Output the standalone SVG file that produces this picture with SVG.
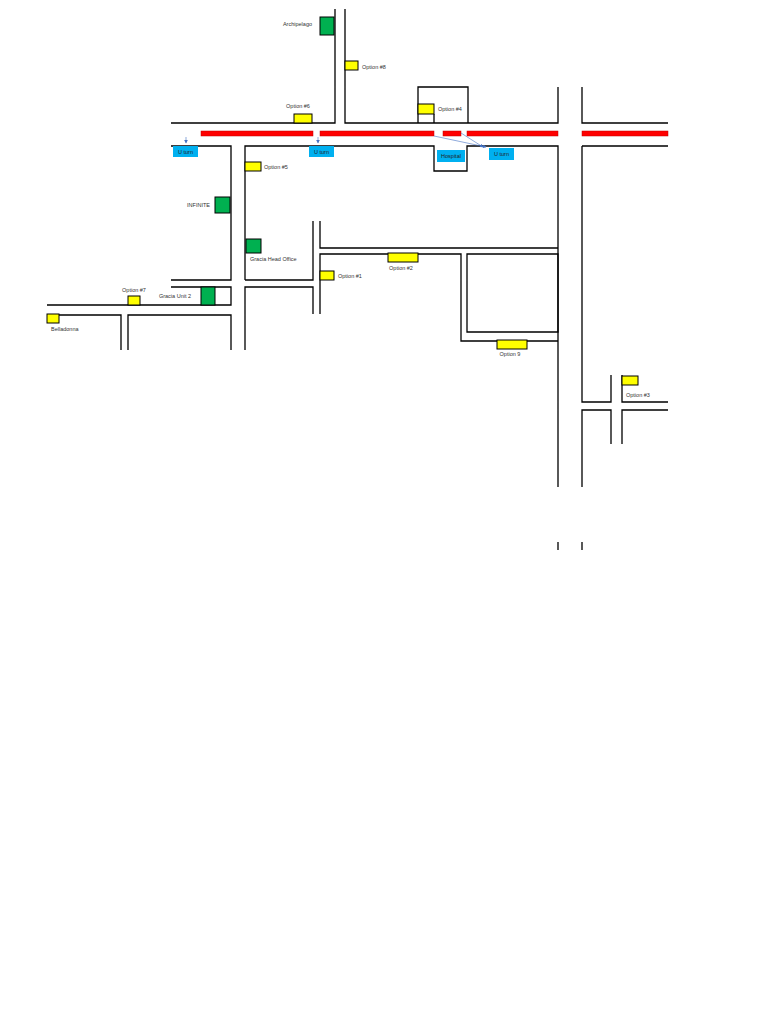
<svg xmlns="http://www.w3.org/2000/svg" width="768" height="1024" viewBox="0 0 768 1024">
<style>
.r{fill:none;stroke:#000;stroke-width:1.3}
.y{fill:#ffff00;stroke:#000;stroke-width:1}
.g{fill:#00b050;stroke:#000;stroke-width:1}
.b{fill:#00b0f0}
.red{fill:#ff0000;stroke:#c00000;stroke-width:0.5}
text{font-family:"Liberation Sans",Arial,sans-serif;font-size:5.5px;fill:#333}
.bt{fill:#222}
.a{stroke:#4472c4;stroke-width:0.6;fill:none;marker-end:url(#ah)}
</style>
<defs><marker id="ah" markerWidth="6" markerHeight="6" refX="5" refY="3" orient="auto"><path d="M0,0L6,3L0,6z" fill="#4472c4"/></marker></defs>
<rect width="768" height="1024" fill="#fff"/>
<g id="roads">
<path class="r" d="M335,9V123H171M345,9V123H558V87M418,123V87H468V123M434,114V123M582,87V123H668"/>
<path class="r" d="M171,146H231V280H171M245,280V146H434V171H467V146H558V487M582,487V410H611V444M622,444V410H668M582,146H668M582,146V402H611V375M622,375V402H668"/>
<path class="r" d="M245,280H313V221M320,221V248H558M320,314V254H461V341H558M467,254H558V332H467Z"/>
<path class="r" d="M313,314V287H245V350M171,287H231V305H47M59,315H121V350M128,350V315H231V350"/>
<path class="r" d="M558,542V550M582,542V550"/>
</g>
<g id="median">
<rect class="red" x="201" y="131" width="112" height="5"/>
<rect class="red" x="320" y="131" width="114" height="5"/>
<rect class="red" x="443" y="131" width="18" height="5"/>
<rect class="red" x="467" y="131" width="91" height="5"/>
<rect class="red" x="582" y="131" width="86" height="5"/>
</g>
<g id="connectors">
<path class="a" d="M186,137V143"/>
<path class="a" d="M318,137V143"/>
<path class="a" d="M434,136L486,147"/>
<path class="a" d="M461,133L483,147"/>
</g>
<g id="uturn1"><rect class="b" x="173" y="146" width="25" height="11"/><text class="bt" x="185.5" y="153.5" text-anchor="middle">U turn</text></g>
<g id="uturn2"><rect class="b" x="309" y="146" width="25" height="11"/><text class="bt" x="321.5" y="153.5" text-anchor="middle">U turn</text></g>
<g id="uturn3"><rect class="b" x="489" y="148" width="25" height="12"/><text class="bt" x="501.5" y="156" text-anchor="middle">U turn</text></g>
<g id="hospital"><rect class="b" x="437" y="150" width="28" height="12"/><text class="bt" x="451" y="158" text-anchor="middle">Hospital</text></g>
<g id="archipelago"><rect class="g" x="320" y="17" width="14" height="18"/><text x="312" y="26" text-anchor="end">Archipelago</text></g>
<g id="opt8"><rect class="y" x="345" y="61" width="13" height="9"/><text x="362" y="69">Option #8</text></g>
<g id="opt6"><rect class="y" x="294" y="114" width="18" height="9"/><text x="298" y="108" text-anchor="middle">Option #6</text></g>
<g id="opt4"><rect class="y" x="418" y="104" width="16" height="10"/><text x="438" y="111">Option #4</text></g>
<g id="opt5"><rect class="y" x="245" y="162" width="16" height="9"/><text x="264" y="169">Option #5</text></g>
<g id="infinite"><rect class="g" x="215" y="197" width="15" height="16"/><text x="210" y="207" text-anchor="end">INFINITE</text></g>
<g id="gho"><rect class="g" x="246" y="239" width="15" height="14"/><text x="250" y="261">Gracia Head Office</text></g>
<g id="opt1"><rect class="y" x="320" y="271" width="14" height="9"/><text x="338" y="278">Option #1</text></g>
<g id="opt2"><rect class="y" x="388" y="253" width="30" height="9"/><text x="401" y="270" text-anchor="middle">Option #2</text></g>
<g id="opt9"><rect class="y" x="497" y="340" width="30" height="9"/><text x="510" y="356" text-anchor="middle">Option 9</text></g>
<g id="opt3"><rect class="y" x="622" y="376" width="16" height="9"/><text x="626" y="397">Option #3</text></g>
<g id="gu2"><rect class="g" x="201" y="287" width="14" height="18"/><text x="175" y="298" text-anchor="middle">Gracia Unit 2</text></g>
<g id="opt7"><rect class="y" x="128" y="296" width="12" height="9"/><text x="134" y="292" text-anchor="middle">Option #7</text></g>
<g id="belladonna"><rect class="y" x="47" y="314" width="12" height="9"/><text x="51" y="331">Belladonna</text></g>
</svg>
